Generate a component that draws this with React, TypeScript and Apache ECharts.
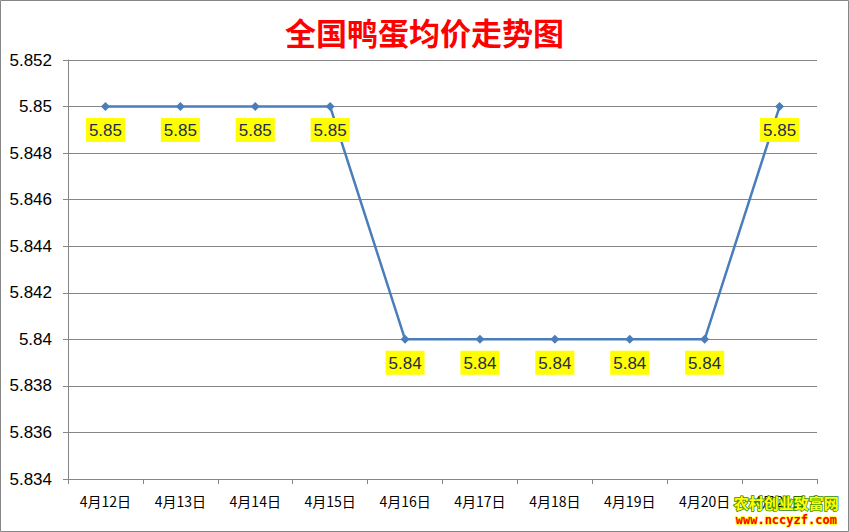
import * as echarts from "echarts";
import { useEffect, useRef } from "react";

const categories = [
  "4月12日",
  "4月13日",
  "4月14日",
  "4月15日",
  "4月16日",
  "4月17日",
  "4月18日",
  "4月19日",
  "4月20日",
  "4月21日",
];

const prices = [5.85, 5.85, 5.85, 5.85, 5.84, 5.84, 5.84, 5.84, 5.84, 5.85];

const yMin = 5.834;
const yMax = 5.852;
const yStep = 0.002;

export default function App() {
  const chartRef = useRef<HTMLDivElement | null>(null);

  useEffect(() => {
    const el = chartRef.current;
    if (!el) return;
    document.body.style.margin = "0";

    const chart = echarts.init(el, undefined, { renderer: "svg" });

    const option: echarts.EChartsOption = {
      animation: false,
      backgroundColor: "#ffffff",
      title: {
        text: "全国鸭蛋均价走势图",
        left: "center",
        top: 11,
        textStyle: {
          fontFamily: "Noto Sans CJK SC",
          fontSize: 31,
          fontWeight: "bold",
          color: "#ff0000",
        },
      },
      grid: { top: 60, left: 68, right: 32, bottom: 53 },
      xAxis: {
        type: "category",
        data: categories,
        boundaryGap: true,
        axisLine: { lineStyle: { color: "#868686", width: 1 } },
        axisTick: { show: true, length: 5, lineStyle: { color: "#868686" } },
        axisLabel: {
          margin: 15,
          fontSize: 14,
          color: "#000",
          fontFamily: "Noto Sans CJK SC",
        },
        splitLine: { show: false },
      },
      yAxis: {
        type: "value",
        min: yMin,
        max: yMax,
        interval: yStep,
        axisLine: { show: true, lineStyle: { color: "#868686", width: 1 } },
        axisTick: { show: true, length: 5, lineStyle: { color: "#868686" } },
        axisLabel: {
          margin: 16,
          fontSize: 17,
          color: "#000",
          fontFamily: "Liberation Sans",
          formatter: (v: number) => String(parseFloat(v.toFixed(3))),
        },
        splitLine: { lineStyle: { color: "#868686", width: 1 } },
      },
      series: [
        {
          type: "line",
          data: prices,
          symbol: "diamond",
          symbolSize: 9,
          lineStyle: { color: "#4a7ebb", width: 2.5 },
          itemStyle: { color: "#4a7ebb" },
          label: {
            show: true,
            position: "bottom",
            distance: 7,
            formatter: (p: any) => String(p.value),
            fontSize: 17,
            fontFamily: "Liberation Sans",
            color: "#1f2d50",
            backgroundColor: "#ffff00",
            padding: [4, 3, 3, 3],
          },
        },
      ],
      graphic: [
        {
          type: "rect",
          shape: { x: 0.5, y: 0.5, width: 848, height: 531 },
          style: { fill: "none", stroke: "#868686", lineWidth: 1 },
          silent: true,
        },
        {
          type: "text",
          left: 733,
          top: 494,
          z: 100,
          style: {
            text: "农村创业致富网",
            fontFamily: "Noto Sans CJK SC",
            fontSize: 15,
            fontWeight: "bold",
            fill: "#ffff00",
            stroke: "#2e8b00",
            lineWidth: 1.5,
          },
        },
        {
          type: "text",
          left: 735,
          top: 513,
          z: 100,
          style: {
            text: "www.nccyzf.com",
            fontFamily: "DejaVu Sans Mono",
            fontSize: 12,
            fontWeight: "bold",
            fill: "#ff0000",
            stroke: "#ffff00",
            lineWidth: 1.5,
          },
        },
      ],
    };

    chart.setOption(option, { notMerge: true });

    return () => {
      if (!chart.isDisposed()) chart.dispose();
    };
  }, []);

  return <div ref={chartRef} style={{ width: 849, height: 532 }} />;
}
